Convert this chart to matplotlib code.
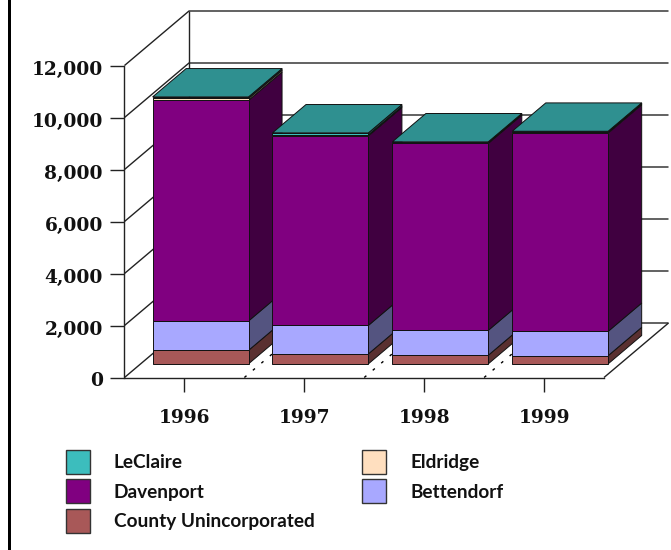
import matplotlib
matplotlib.use("Agg")
import matplotlib.pyplot as plt
from matplotlib.patches import Polygon, Patch, Rectangle
from matplotlib.transforms import ScaledTranslation
import numpy as np

years = ["1996", "1997", "1998", "1999"]
county = [520, 385, 330, 315]
bettendorf = [1130, 1095, 960, 935]
davenport = [8485, 7290, 7190, 7627]
eldridge = [75, 40, 30, 40]
leclaire = [58, 75, 30, 30]
yticks = [0, 2000, 4000, 6000, 8000, 10000, 12000]

series = [("County Unincorporated", county, "#A85858", "#5A3030"),
          ("Bettendorf", bettendorf, "#A8A8FF", "#545480"),
          ("Davenport", davenport, "#800080", "#400040"),
          ("Eldridge", eldridge, "#FFDFBF", "#806F5F"),
          ("LeClaire", leclaire, "#3CBDBD", "#1E5E5E")]
top_color = "#2F9090"

W, H = 671, 550
fig = plt.figure(figsize=(W / 100, H / 100), dpi=100)
fig.patch.set_facecolor("white")
ax = fig.add_axes([124.5 / W, 1 - 377.5 / H, 479.5 / W, 312 / H])
ax.set_xlim(-0.5, 3.5)
ax.set_ylim(0, 12000)

DX = 64.5 / 119.875     # full depth in category units
DY = 54.5 / 0.026       # full depth in value units
FRONT, BACK = 0.25, 0.77
BAR_W = 0.80
LINE = "#222222"


def line(xs, ys, **kw):
    kw.setdefault("color", LINE)
    kw.setdefault("lw", 1.0)
    ax.plot(xs, ys, clip_on=False, zorder=kw.pop("zorder", 1), solid_capstyle="butt", **kw)


# walls and floor
x0, x1 = -0.5, 3.5
for v in yticks:
    line([x0, x0 + DX, x1 + DX], [v, v + DY, v + DY])
line([x0 + DX, x0 + DX], [DY, 12000 + DY])
line([x1, x1 + DX], [0, DY])
# hidden floor separators between categories
for i in range(1, 4):
    b = x0 + i
    ax.plot([b, b + DX * 0.5], [0, DY * 0.5], color="black", lw=1.0,
            dashes=(2, 6), clip_on=False, zorder=1)


def poly(pts, fc, z):
    ax.add_patch(Polygon(pts, closed=True, facecolor=fc, edgecolor="#111111",
                         lw=0.7, clip_on=False, zorder=z, joinstyle="miter"))


for i in range(len(years)):
    z = 3 + i
    xl = i - BAR_W / 2 + DX * FRONT
    xr = i + BAR_W / 2 + DX * FRONT
    sx = DX * (BACK - FRONT)
    sy = DY * (BACK - FRONT)
    y0 = DY * FRONT
    base = 0
    for name, vals, fc, sc in series:
        v = vals[i]
        a, b = y0 + base, y0 + base + v
        poly([(xr, a), (xr + sx, a + sy), (xr + sx, b + sy), (xr, b)], sc, z)
        poly([(xl, a), (xr, a), (xr, b), (xl, b)], fc, z)
        base += v
    t = y0 + base
    poly([(xl, t), (xr, t), (xr + sx, t + sy), (xl + sx, t + sy)], top_color, z)

# axes
for s in ("top", "right"):
    ax.spines[s].set_visible(False)
for s in ("left", "bottom"):
    ax.spines[s].set_linewidth(1.0)
    ax.spines[s].set_color(LINE)
ax.patch.set_alpha(0)
ax.set_xticks(range(len(years)))
ax.set_xticklabels(years)
ax.set_yticks(yticks)
ax.set_yticklabels([f"{v:,}" for v in yticks])
ax.tick_params(axis="both", direction="out", length=10.4, width=1.0, color=LINE)
ax.tick_params(axis="x", pad=12.5)
ax.tick_params(axis="y", pad=5.2)
shift = ScaledTranslation(0, -2 / 100, fig.dpi_scale_trans)
for lab in ax.get_xticklabels() + ax.get_yticklabels():
    lab.set_fontfamily("DejaVu Serif")
    lab.set_fontweight("bold")
    lab.set_fontsize(13.4)
    lab.set_color("#111111")
for lab in ax.get_yticklabels():
    lab.set_transform(lab.get_transform() + shift)

# legend
fs = 13.7
fpx = fs * 100 / 72
order = [4, 2, 0, 3, 1]
handles = [Patch(facecolor=series[k][2], edgecolor="#333333", lw=1.0) for k in order]
labels = [series[k][0] for k in order]
hh = (24 / fpx - 0.245) / 0.65
leg = fig.legend(handles, labels, ncol=2, loc="upper left",
                 bbox_to_anchor=(65.5 / W, 1 - 450 / H), borderaxespad=0, borderpad=0,
                 frameon=False, handlelength=24 / fpx, handleheight=hh,
                 handletextpad=24 / fpx, labelspacing=5.3 / fpx, columnspacing=48 / fpx,
                 prop={"family": "Lato", "weight": "bold", "size": fs})
for t in leg.get_texts():
    t.set_color("#111111")

# black rule at the left edge
fig.add_artist(Rectangle((8 / W, 0), 3 / W, 1, transform=fig.transFigure,
                         facecolor="black", edgecolor="none"))

fig.savefig("out.png", dpi=100)
